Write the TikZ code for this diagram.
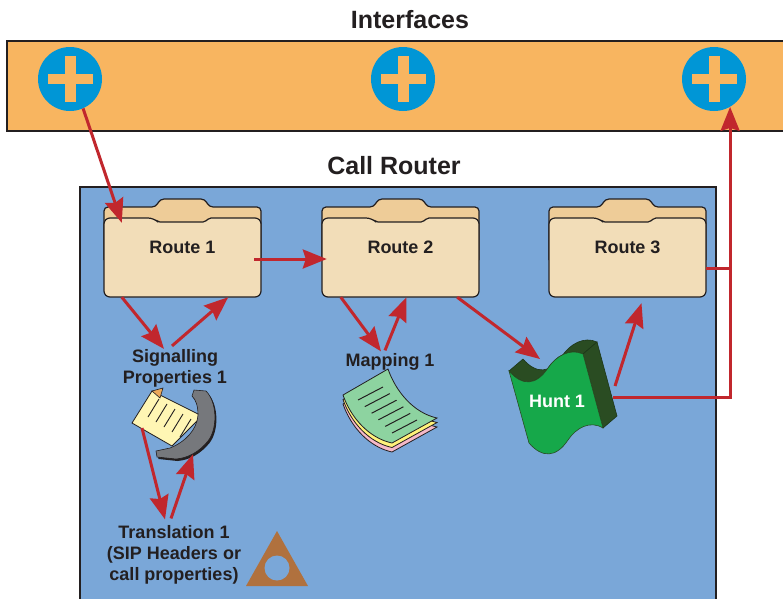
\documentclass[tikz,border=0pt]{standalone}
\usepackage{fontspec}
\setmainfont{Liberation Sans}
\usetikzlibrary{arrows.meta}

\definecolor{barorange}{RGB}{248,181,96}
\definecolor{panelblue}{RGB}{122,167,216}
\definecolor{plugblue}{RGB}{0,150,214}
\definecolor{wirered}{RGB}{193,39,45}
\definecolor{ink}{RGB}{35,31,32}
\definecolor{folderfront}{RGB}{242,221,184}
\definecolor{folderback}{RGB}{238,204,152}
\definecolor{huntfront}{RGB}{22,168,74}
\definecolor{huntside}{RGB}{42,76,34}
\definecolor{brick}{RGB}{176,113,62}
\definecolor{paper}{RGB}{255,246,180}
\definecolor{handset}{RGB}{118,120,124}
\definecolor{sheetgreen}{RGB}{141,211,160}
\definecolor{sheetyellow}{RGB}{255,242,122}
\definecolor{sheetpink}{RGB}{245,184,200}

\tikzset{
	heading/.style={font=\fontsize{25}{28}\selectfont\bfseries, text=ink, inner sep=0pt},
	caption/.style={font=\fontsize{18}{21}\selectfont\bfseries, text=ink, inner sep=0pt, align=center},
	folder/.style={caption, minimum width=157pt, minimum height=100pt},
	plug/.style={circle, fill=plugblue, minimum size=64pt, inner sep=0pt,
		path picture={
			\fill[barorange] ([xshift=-22.5pt,yshift=-5pt]path picture bounding box.center) rectangle ([xshift=22.5pt,yshift=5pt]path picture bounding box.center);
			\fill[barorange] ([xshift=-5.5pt,yshift=-23pt]path picture bounding box.center) rectangle ([xshift=5.5pt,yshift=23pt]path picture bounding box.center);
		}},
	spot/.style={minimum width=80pt, minimum height=70pt, inner sep=0pt},
	wire/.style={draw=wirered, line width=3pt},
	flow/.style={wire, -{Stealth[length=24pt,width=19pt,inset=3pt]}},
}

\newcommand{\routefolder}[3]{
	\filldraw[fill=folderback, draw=ink, line width=1.2pt, rounded corners=4pt] (#2,260) -- (#2,207) -- (#2+52,207) -- (#2+56,199) -- (#2+101,199) -- (#2+105,207) -- (#2+157,207) -- (#2+157,260);
	\filldraw[fill=folderfront, draw=ink, line width=1.2pt, rounded corners=6pt] (#2,280) -- (#2,218) -- (#2+50,218) [rounded corners=2pt] -- (#2+54,222) -- (#2+101,222) -- (#2+105,218) [rounded corners=6pt] -- (#2+157,218) -- (#2+157,297) -- (#2,297) -- cycle;
	\node[folder] (#1) at (#2+78.5,247) {#3};
}

\begin{document}
\begin{tikzpicture}[x=1pt, y=-1pt]
	\clip (0,0) rectangle (783,598);
	\fill[white] (0,0) rectangle (783,598);

	\node[heading] (ifc) at (410,20) {Interfaces};
	\filldraw[fill=barorange, draw=ink, line width=1.5pt] (7,41) rectangle (800,131);
	\node[plug] (c1) at (70,79) {};
	\node[plug] (c2) at (403,79) {};
	\node[plug] (c3) at (714,79) {};

	\node[heading] (router) at (394,166) {Call Router};
	\filldraw[fill=panelblue, draw=ink, line width=1.2pt] (80,187) rectangle (716,620);

	\routefolder{r1}{104}{Route 1}
	\routefolder{r2}{322}{Route 2}
	\routefolder{r3}{549}{Route 3}

	\node[caption] (sig) at (175,368) {Signalling\\Properties 1};
	\node[spot] (phone) at (172,424) {};
	\filldraw[fill=paper, draw=ink, line width=0.8pt] (132,423) -- (152,391) -- (202,416) -- (172,446) -- cycle;
	\filldraw[fill=barorange!80!brown, draw=ink, line width=0.6pt] (152,391) -- (163,388) -- (160,398) -- cycle;
	\foreach \i in {0,...,4}
		\draw[ink, line width=0.9pt] (148+8*\i,417+5*\i) -- ++(11,-18);
	\fill[ink, shift={(1.5,2)}] (194,390) -- (206,391) .. controls (217,402) and (218,428) .. (208,441) .. controls (199,452) and (188,458) .. (176,459) -- (157,457) -- (156,451) -- (170,448) .. controls (185,442) and (197,430) .. (198,415) .. controls (198,406) and (196,400) .. (192,396) -- cycle;
	\filldraw[fill=handset, draw=ink, line width=0.6pt] (194,390) -- (206,391) .. controls (217,402) and (218,428) .. (208,441) .. controls (199,452) and (188,458) .. (176,459) -- (157,457) -- (156,451) -- (170,448) .. controls (185,442) and (197,430) .. (198,415) .. controls (198,406) and (196,400) .. (192,396) -- cycle;

	\node[caption] (map) at (390,362) {Mapping 1};
	\foreach \dy/\col in {9/sheetpink,4.5/sheetyellow,0/sheetgreen}
		\filldraw[fill=\col, draw=ink, line width=0.8pt, shift={(0,\dy)}] (343,395) -- (388,369) .. controls (396,392) and (414,413) .. (437,418) -- (392,443) .. controls (369,438) and (351,418) .. (343,395) -- cycle;
	\foreach \i in {0,...,5}
		\draw[ink, line width=1pt] (358+6.8*\i,400+6.6*\i) -- ++(25,-13);

	\filldraw[fill=huntside, draw=huntside!70!black, line width=0.6pt] (509,371) .. controls (522,386) and (536,386) .. (548,368) .. controls (556,356) and (570,348) .. (583,354) -- (597,342) .. controls (584,336) and (570,344) .. (562,356) .. controls (550,374) and (536,374) .. (523,359) -- cycle;
	\filldraw[fill=huntside, draw=huntside!70!black, line width=0.6pt] (583,354) -- (603,428) -- (617,416) -- (597,342) -- cycle;
	\filldraw[fill=huntfront, draw=huntside, line width=0.6pt] (509,371) .. controls (522,386) and (536,386) .. (548,368) .. controls (556,356) and (570,348) .. (583,354) -- (603,428) .. controls (590,420) and (576,428) .. (568,440) .. controls (556,458) and (542,458) .. (529,443) -- cycle;
	\node[caption, text=white] (hunt) at (557,401) {Hunt 1};

	\node[caption] (trans) at (174,555) {Translation 1\\(SIP Headers or\\call properties)};
	\fill[brick] (277,531) -- (308,586) -- (246,586) -- cycle;
	\fill[panelblue] (277,568) circle (12.5);

	\draw[flow] (c1.-66) -- ([xshift=18pt,yshift=-26pt]r1.north west);
	\draw[flow] ([xshift=-7pt,yshift=-12pt]r1.east) -- ([xshift=5pt,yshift=-12pt]r2.west);
	\draw[flow] ([xshift=18pt]r1.south west) -- ([xshift=-11pt]sig.north);
	\draw[flow] ([xshift=-3pt,yshift=3pt]sig.north) -- ([xshift=-33pt]r1.south east);
	\draw[flow] ([xshift=-30pt,yshift=-4pt]phone.center) -- ([xshift=-9pt,yshift=6pt]trans.north);
	\draw[flow] ([xshift=-3pt,yshift=7pt]trans.north) -- ([xshift=21pt,yshift=5pt]phone.south);
	\draw[flow] ([xshift=19pt]r2.south west) -- ([xshift=-9pt,yshift=2pt]map.north);
	\draw[flow] ([xshift=-5pt,yshift=3pt]map.north) -- ([xshift=6pt]r2.south);
	\draw[flow] ([xshift=-22pt]r2.south east) -- ([xshift=-17pt,yshift=42pt]hunt.center);
	\draw[flow] ([xshift=58pt,yshift=15pt]hunt.center) -- ([xshift=14pt,yshift=-6pt]r3.south);
	\draw[flow] ([xshift=56pt,yshift=4pt]hunt.center) -| (c3.-60);
	\draw[wire] ([yshift=-21pt]r3.east) -- ([yshift=-21pt]r3.east -| c3.-60);
\end{tikzpicture}
\end{document}
